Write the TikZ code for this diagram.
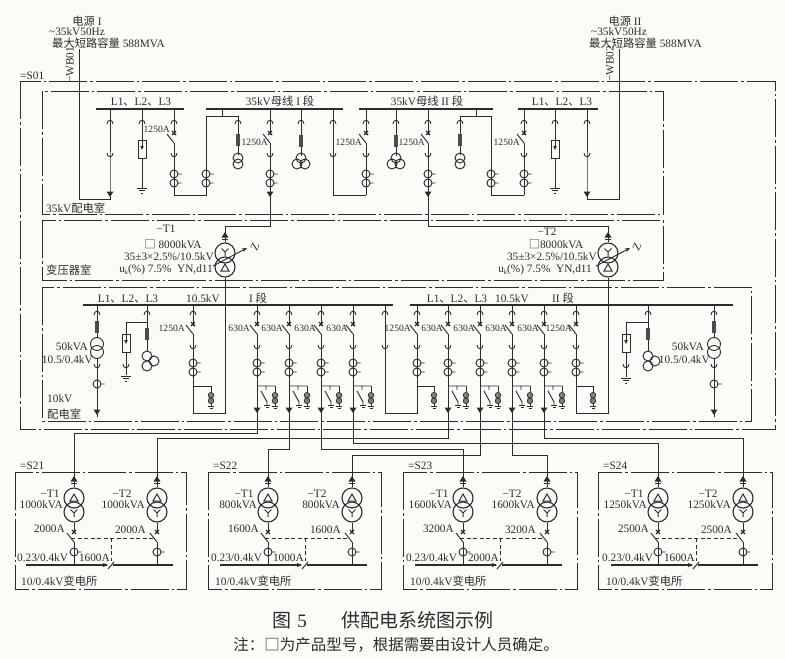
\documentclass[tikz,border=0pt]{standalone}
\usepackage{fontspec}
\usetikzlibrary{arrows.meta}
\setmainfont{Liberation Serif}
\newfontfamily\cjkfont{Noto Sans CJK SC}
\newcommand{\cj}[1]{{\cjkfont #1}}
\definecolor{ink}{HTML}{2C2C2C}
\definecolor{bgc}{HTML}{FBFBF7}
\newcounter{lb}
\tikzset{
  x=1pt,y=-1pt,
  lab/.style={inner sep=0pt,text=ink,font=\fontsize{11.3}{12}\selectfont},
  amp/.style={lab,font=\fontsize{9.6}{12}\selectfont},
  roomline/.style={draw=ink,line width=.95pt,dash pattern=on 38pt off 3pt on 2.5pt off 3pt},
  wire/.style={draw=ink,line width=.95pt},
  fineline/.style={draw=ink,line width=.8pt,dash pattern=on 4pt off 2.5pt},
  busbar/.style={draw=ink,line width=1.7pt},
  xfmr/.style={circle,draw=ink,line width=1.1pt,minimum size=20pt,inner sep=0pt},
  plugtop/.pic={\draw[wire,line width=.9pt] (-3,2) .. controls (-3,-3) and (3,-3) .. (3,2);},
  plugbot/.pic={\draw[wire,line width=.9pt] (-3,-2) .. controls (-3,3) and (3,3) .. (3,-2);},
  brk/.pic={\fill[bgc] (-1.2,1.5) rectangle (1.2,10);
    \draw[wire] (-7,1) -- (0,10);
    \draw[ink,line width=1.1pt] (-2,-2) -- (2,2) (-2,2) -- (2,-2);},
  ctr/.pic={\draw[wire] (0,0) circle[radius=4pt] (4,0) -- (7.5,0);},
  arrdown/.pic={\fill[ink] (-3.5,-2.5) -- (3.5,-2.5) -- (0,3) -- cycle;},
  arrup/.pic={\fill[ink] (-3.5,2.5) -- (3.5,2.5) -- (0,-3) -- cycle;
    \draw[ink,line width=1pt] (-3,4) -- (3,4);},
  fusebar/.pic={\fill[ink!85] (-2,-6) rectangle (2,6);},
  lightn/.pic={\draw[wire,fill=bgc] (-4,-9) rectangle (4,9);
    \draw[wire] (0,-9) -- (0,-3);
    \fill[ink] (-1.8,-3) -- (1.8,-3) -- (0,1) -- cycle;},
  earthing/.pic={\draw[wire] (-5,0) -- (5,0) (-3,2.5) -- (3,2.5) (-1,5) -- (1,5);},
  surgeup/.pic={\draw[wire] (0,-10) -- (0,8);
    \draw[ink,fill=ink!60,line width=.7pt] (0,-2.8) circle[radius=2.8pt] (0,2.8) circle[radius=2.8pt];
    \draw[wire] (-3,8) -- (3,8) (-1.5,10) -- (1.5,10);},
  swbranch/.pic={\draw[wire] (0,0) -- (18,0) (9,0) -- (9,4) (4,5) -- (10,16) -- (10,19);
    \draw[wire] (7,19) -- (13,19) (8.5,21) -- (11.5,21);
    \draw[wire] (18,0) -- (18,2);
    \pic at (18,12) {surgeup};},
  ptwo/.pic={\draw[wire] (0,-3) circle[radius=5pt] (0,3) circle[radius=5pt];},
  ptthree/.pic={\draw[wire] (0,-3) circle[radius=5pt] (-4,3) circle[radius=5pt] (4,3) circle[radius=5pt];},
  ptside/.pic={\draw[wire] (0,-5) circle[radius=5pt] (0,5) circle[radius=5pt] (7,0) circle[radius=5pt];},
  ysym/.pic={\draw[ink,line width=1pt] (-3.5,-3.5) -- (0,0) -- (3.5,-3.5) (0,0) -- (0,4);},
  dsym/.pic={\draw[ink,line width=1pt] (-4,3) -- (4,3) -- (0,-4) -- cycle;},
}
\newcommand{\lab}[4][]{\stepcounter{lb}\node[lab,#1] (lb\thelb) at (#2,#3) {#4};}
\newcommand{\amp}[3]{\stepcounter{lb}\node[amp,anchor=east] (lb\thelb) at (#1,#2) {#3};}
% 35 kV feeder with breaker down to current transformers
\newcommand{\feedH}[1]{\draw[wire] (#1,109) -- (#1,190);
  \pic at (#1,122) {plugtop}; \pic at (#1,133) {brk}; \pic at (#1,155) {plugbot};
  \pic at (#1,174) {ctr}; \pic at (#1,183) {ctr};}
% 10 kV feeder with breaker
\newcommand{\feedL}[1]{\draw[wire] (#1,305) -- (#1,410);
  \pic at (#1,313) {plugtop}; \pic at (#1,324) {brk}; \pic at (#1,347) {plugbot};
  \pic at (#1,363) {ctr}; \pic at (#1,372) {ctr};}
% wire from a feeder end along a level to a transformer terminal
\newcommand{\route}[3]{\draw[wire] (#1) -- (#1 |- 0,#2) -- (#3 |- 0,#2) -- (#3);}
% transformer branch of a substation
\newcommand{\subT}[2]{%
  \node[xfmr] (#1d) at (#2,498) {}; \node[xfmr] (#1y) at (#2,512) {};
  \pic at (#2,498) {dsym}; \pic at (#2,513) {ysym};
  \pic at (#2,479) {arrup};
  \draw[wire] (#1y.south) -- (#2,533) (#2,542) -- (#2,565);
  \pic at (#2,532) {brk};
  \pic at (#2,552) {ctr};}
% #1 name #2 dx #3 T1x #4 T2x #5 kVA #6 breaker #7 tie #8 boxL #9 boxR
\newcommand{\subst}[9]{%
  \draw[roomline] (#8,472) rectangle (#9,589);
  \lab[anchor=west]{#8+5}{466}{=#1}
  \subT{#1Ta}{#3}
  \subT{#1Tb}{#4}
  \lab{#3-24}{494}{−T1}
  \lab[anchor=east]{#3-11}{505}{#5}
  \lab{#4-35}{494}{−T2}
  \lab[anchor=east]{#4-12}{505}{#5}
  \lab[anchor=east]{#3-9}{529}{#6}
  \lab[anchor=east]{#4-11}{530}{#6}
  \begin{scope}[shift={(#2,0)}]
    \draw[busbar] (26,565) -- (107,565) (113,565) -- (173,565);
    \fill[ink] (103,563) -- (108,565) -- (103,567) -- cycle;
    \draw[wire] (108,569) -- (114,562);
    \draw[fineline] (111,538) -- (111,561);
    \lab[anchor=west]{17}{558}{0.23/0.4kV}
    \lab[anchor=east]{110}{558}{#7}
    \lab[anchor=west]{21}{581}{10/0.4kV\cj{变电所}}
  \end{scope}
  \draw[fineline] (#3-3,538) -- (#4-3,538);
}
\begin{document}
\begin{tikzpicture}
\fill[bgc] (0,0) rectangle (785,659);
\useasboundingbox (0,0) rectangle (785,659);
% rooms
\draw[roomline] (20,81) rectangle (775,429);
\draw[roomline] (42,91) rectangle (663,214);
\draw[roomline] (42,220) rectangle (663,280);
\draw[roomline] (42,287) rectangle (751,421);
\fill[bgc] (17,70) rectangle (46,80);
\lab[anchor=west]{20}{76}{=S01}
% sources
\lab{87}{21}{\cj{电源} I}
\lab{77}{32}{\symbol{126}35kV50Hz}
\lab[anchor=west]{52}{43}{\cj{最大短路容量} 588MVA}
\lab[rotate=90]{70}{65}{−WB01}
\lab{625}{21}{\cj{电源} II}
\lab{619}{32}{\symbol{126}35kV50Hz}
\lab[anchor=west]{589}{43}{\cj{最大短路容量} 588MVA}
\lab[rotate=90]{610}{64}{−WB02}
\coordinate (srcA) at (79,49);
\coordinate (srcB) at (619,49);
% 35 kV buses
\draw[busbar] (96,109) -- (184,109) (206,109) -- (343,109) (359,109) -- (493,109) (518,109) -- (598,109);
\lab{141}{102}{L1\cj{、}L2\cj{、}L3}
\lab{280}{101}{35kV\cj{母线} I \cj{段}}
\lab{427}{101}{35kV\cj{母线} II \cj{段}}
\lab{562}{102}{L1\cj{、}L2\cj{、}L3}
\lab[anchor=west]{46}{208}{35kV\cj{配电室}}
\lab[anchor=west]{46}{270}{\cj{变压器室}}
% 35 kV incoming I
\coordinate (inA) at (110,194);
\draw[wire] (110,109) -- (inA) -- (110,199) -- (srcA |- 0,199) -- (srcA);
\pic at (110,122) {plugtop}; \pic at (110,155) {plugbot}; \pic at (inA) {arrdown};
% arrester I
\draw[wire] (142,109) -- (142,188);
\pic at (142,122) {plugtop}; \pic at (142,149) {lightn}; \pic at (142,188) {earthing};
% coupling I
\feedH{174}
\draw[wire] (174,190) -- (174,195) -- (206,195) -- (206,116) -- (238,116) -- (238,155);
\draw[wire] (222,109) -- (222,116);
\pic at (206,174) {ctr}; \pic at (206,183) {ctr};
\pic at (238,122) {plugtop}; \pic at (238,140) {fusebar}; \pic at (238,161) {ptwo};
% to transformer I
\feedH{270}
\pic at (270,194) {arrdown};
% PT
\draw[wire] (301,109) -- (301,156);
\pic at (301,122) {plugtop}; \pic at (301,141) {fusebar}; \pic at (301,161) {ptthree};
% bus tie
\draw[wire] (333,109) -- (333,195) -- (366,195);
\pic at (333,122) {plugtop}; \pic at (333,155) {plugbot};
\feedH{366}
\draw[wire] (366,190) -- (366,195);
% PT II
\draw[wire] (396,109) -- (396,156);
\pic at (396,122) {plugtop}; \pic at (396,141) {fusebar}; \pic at (396,161) {ptthree};
% to transformer II
\feedH{428}
\pic at (428,194) {arrdown};
% coupling II
\draw[wire] (460,116) -- (460,155);
\pic at (460,122) {plugtop}; \pic at (460,140) {fusebar}; \pic at (460,161) {ptwo};
\draw[wire] (460,116) -- (491,116) -- (491,195) -- (524,195);
\draw[wire] (476,109) -- (476,116);
\pic at (491,174) {ctr}; \pic at (491,183) {ctr};
\feedH{524}
\draw[wire] (524,190) -- (524,195);
% arrester II
\draw[wire] (555,109) -- (555,188);
\pic at (555,122) {plugtop}; \pic at (555,149) {lightn}; \pic at (555,188) {earthing};
% incoming II
\coordinate (inB) at (587,194);
\draw[wire] (587,109) -- (inB) -- (587,199) -- (srcB |- 0,199) -- (srcB);
\pic at (587,122) {plugtop}; \pic at (587,155) {plugbot}; \pic at (inB) {arrdown};
% 1250 A labels 35 kV
\amp{170}{129}{1250A}
\amp{268}{142}{1250A}
\amp{362}{142}{1250A}
\amp{425}{142}{1250A}
\amp{520}{142}{1250A}
% main transformers
\node[xfmr] (tAy) at (225,253) {}; \node[xfmr] (tAd) at (225,267) {};
\node[xfmr] (tBy) at (608,253) {}; \node[xfmr] (tBd) at (608,267) {};
\pic at (225,252) {ysym}; \pic at (225,268) {dsym};
\pic at (608,252) {ysym}; \pic at (608,268) {dsym};
\pic at (225,235) {arrup}; \pic at (608,235) {arrup};
\draw[wire] (270,190) -- (270,226) -- (tAy.north |- 0,226) -- (tAy.north);
\draw[wire] (428,190) -- (428,226) -- (tBy.north |- 0,226) -- (tBy.north);
\draw[wire,-{Stealth[length=5pt,width=4pt]}] (213,266) -- (247,248);
\draw[wire,-{Stealth[length=5pt,width=4pt]}] (596,266) -- (630,248);
\lab[rotate=65]{255}{247}{Z}
\lab[rotate=65]{637}{247}{Z}
\lab{166}{229}{−T1}
\lab{173}{244}{\cj{□} 8000kVA}
\lab[anchor=east]{214}{257}{35±3×2.5\%/10.5kV}
\lab[anchor=east]{213}{270}{u\raisebox{-1.5pt}{\fontsize{6.5}{7}\selectfont k}(\%) 7.5\%\ \ YN,d11}
\lab{547}{232}{−T2}
\lab{556}{244}{\cj{□}8000kVA}
\lab[anchor=east]{597}{257}{35±3×2.5\%/10.5kV}
\lab[anchor=east]{592}{270}{u\raisebox{-1.5pt}{\fontsize{6.5}{7}\selectfont k}(\%) 7.5\%\ \ YN,d11}
% 10 kV buses
\draw[busbar] (83,305) -- (393,305) (410,305) -- (733,305);
\lab{128}{299}{L1\cj{、}L2\cj{、}L3}
\lab{203}{299}{10.5kV}
\lab{258}{298}{I \cj{段}}
\lab{457}{299}{L1\cj{、}L2\cj{、}L3}
\lab{512}{299}{10.5kV}
\lab{563}{298}{II \cj{段}}
\lab[anchor=west]{47}{399}{10kV}
\lab[anchor=west]{47}{414}{\cj{配电室}}
% auxiliary transformer left
\draw[wire] (97,305) -- (97,417);
\pic at (97,313) {plugtop}; \pic at (97,327) {fusebar};
\draw[wire,fill=bgc] (97,344) circle[radius=6.5pt] (97,352) circle[radius=6.5pt];
\pic at (97,366) {plugbot}; \pic at (97,384) {ctr}; \pic at (97,412) {arrdown};
\lab[anchor=east]{88}{347}{50kVA}
\lab[anchor=east]{93}{360}{10.5/0.4kV}
% PT left
\draw[wire] (147,305) -- (147,351) (147,322) -- (126,322) -- (126,375);
\pic at (147,313) {plugtop}; \pic at (147,334) {fusebar};
\pic at (147,361) {ptside};
\pic at (126,343) {lightn}; \pic at (126,366) {plugbot}; \pic at (126,376) {earthing};
% incomer I
\feedL{193}
\draw[wire] (193,410) -- (193,413) -- (tAd.south |- 0,413) -- (tAd.south);
\draw[wire] (193,386) -- (211,386) -- (211,388);
\pic at (211,398) {surgeup};
\amp{185}{328}{1250A}
% outgoing feeders
\foreach \f in {257,289,321,353,448,480,512,544}{%
  \feedL{\f}
  \pic at (\f,386) {swbranch};
  \pic at (\f,410) {arrdown};
  \coordinate (f\f) at (\f,410);
}
\amp{250}{328}{630A}\amp{283}{328}{630A}\amp{316}{328}{630A}\amp{348}{328}{630A}
\amp{443}{328}{630A}\amp{475}{328}{630A}\amp{507}{328}{630A}\amp{539}{328}{630A}
% bus tie 10 kV
\draw[wire] (385,305) -- (385,413) -- (417,413) -- (417,410);
\pic at (385,313) {plugtop}; \pic at (385,347) {plugbot};
\feedL{417}
\draw[wire] (417,386) -- (434,386) -- (434,388);
\pic at (434,398) {surgeup};
\amp{411}{328}{1250A}
% incomer II
\feedL{576}
\draw[wire] (576,410) -- (576,413) -- (tBd.south |- 0,413) -- (tBd.south);
\draw[wire] (576,386) -- (593,386) -- (593,388);
\pic at (593,398) {surgeup};
\amp{572}{328}{1250A}
% PT right
\draw[wire] (648,305) -- (648,351) (648,322) -- (626,322) -- (626,377);
\pic at (648,313) {plugtop}; \pic at (648,334) {fusebar};
\pic at (648,361) {ptside};
\pic at (626,343) {lightn}; \pic at (626,366) {plugbot}; \pic at (626,378) {earthing};
% auxiliary transformer right
\draw[wire] (714,305) -- (714,417);
\pic at (714,313) {plugtop}; \pic at (714,327) {fusebar};
\draw[wire,fill=bgc] (714,344) circle[radius=6.5pt] (714,352) circle[radius=6.5pt];
\pic at (714,366) {plugbot}; \pic at (714,384) {ctr}; \pic at (714,412) {arrdown};
\lab[anchor=east]{704}{347}{50kVA}
\lab[anchor=east]{710}{360}{10.5/0.4kV}
% substations
\subst{S21}{0}{74}{157}{1000kVA}{2000A}{1600A}{15}{186}
\subst{S22}{194}{268}{352}{800kVA}{1600A}{1000A}{208}{381}
\subst{S23}{389}{463}{547}{1600kVA}{3200A}{2000A}{403}{577}
\subst{S24}{585}{658}{743}{1250kVA}{2500A}{1600A}{598}{772}
% cable routes
\route{f257}{433}{S21Tad.north}
\route{f448}{438}{S21Tbd.north}
\route{f289}{449}{S22Tad.north}
\route{f480}{455}{S22Tbd.north}
\route{f321}{449}{S23Tad.north}
\route{f512}{455}{S23Tbd.north}
\route{f353}{443}{S24Tad.north}
\route{f544}{438}{S24Tbd.north}
% caption
\stepcounter{lb}\node[lab,font=\fontsize{19}{21}\selectfont\cjkfont] (capA) at (383,620) {图\hspace{6pt}{\rmfamily 5}\hspace{35pt}供配电系统图示例};
\stepcounter{lb}\node[lab,font=\fontsize{15.5}{18}\selectfont\cjkfont] (capB) at (396,645) {注：□为产品型号，根据需要由设计人员确定。};
\end{tikzpicture}
\end{document}
